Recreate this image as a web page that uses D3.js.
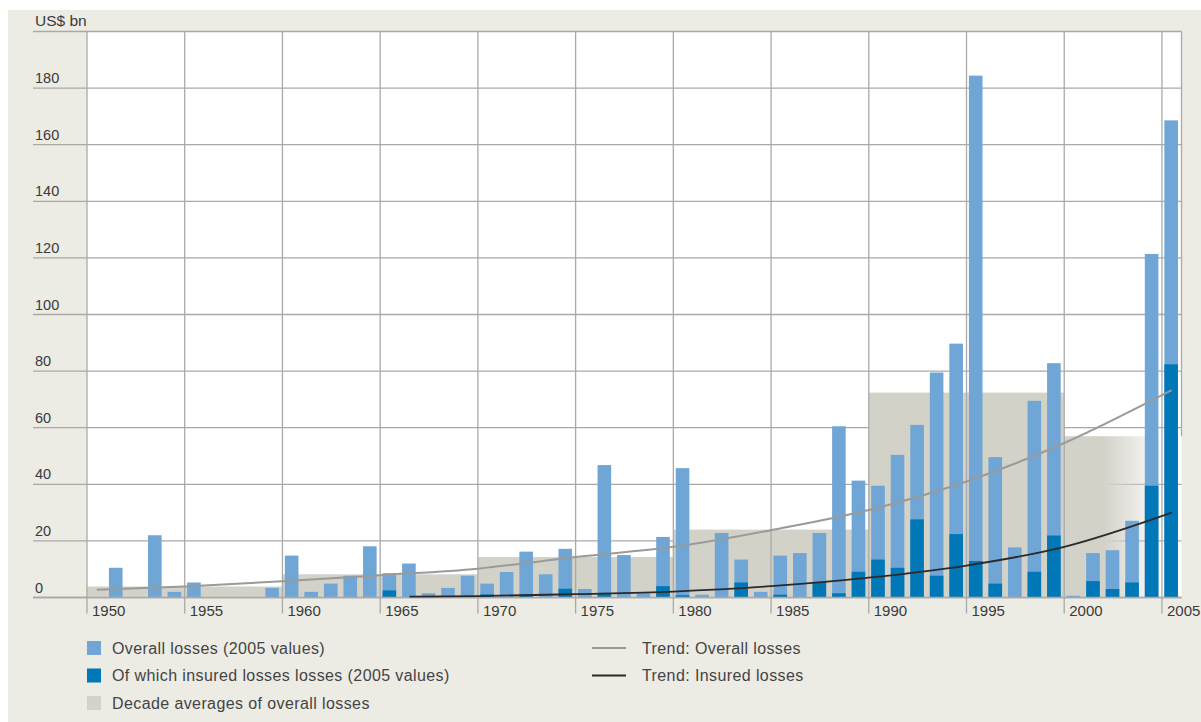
<!DOCTYPE html>
<html>
<head>
<meta charset="utf-8">
<script src="https://cdn.jsdelivr.net/npm/d3@7"></script>
<style>
  body { margin: 0; background: #fff; }
  text { font-family: "Liberation Sans", Arial, sans-serif; fill: #3a3a3a; }
</style>
</head>
<body>
<svg id="chart"></svg>
<script>
// years 1950 - 2005
const years = [1950, 1951, 1952, 1953, 1954, 1955, 1956, 1957, 1958, 1959,
  1960, 1961, 1962, 1963, 1964, 1965, 1966, 1967, 1968, 1969,
  1970, 1971, 1972, 1973, 1974, 1975, 1976, 1977, 1978, 1979,
  1980, 1981, 1982, 1983, 1984, 1985, 1986, 1987, 1988, 1989,
  1990, 1991, 1992, 1993, 1994, 1995, 1996, 1997, 1998, 1999,
  2000, 2001, 2002, 2003, 2004, 2005];

const overallLosses = [0, 10.5, 0, 22, 2, 5.3, 0, 0, 0, 3.4,
  14.8, 2, 4.9, 7.7, 18.1, 8.6, 12, 1.5, 3.4, 7.7,
  4.9, 9, 16.2, 8.2, 17.2, 3, 46.8, 15, 1.5, 21.4,
  45.7, 1, 22.8, 13.4, 2, 14.8, 15.7, 22.8, 60.5, 41.3,
  39.5, 50.4, 61, 79.5, 89.7, 184.4, 49.6, 17.7, 69.5, 82.8,
  0.6, 15.7, 16.7, 27.1, 121.4, 168.6];

const insuredLosses = [0, 0, 0, 0, 0, 0, 0, 0, 0, 0,
  0, 0, 0, 0, 0, 2.5, 0, 0, 0.3, 0.5,
  1.1, 0, 1, 0, 3.1, 0, 1.3, 0, 0, 4,
  0.8, 0, 0, 5.3, 0, 1, 0, 5.5, 1.5, 9.1,
  13.4, 10.5, 27.6, 7.7, 22.4, 12.9, 4.9, 0, 9.1, 21.9,
  0, 5.8, 3, 5.3, 39.5, 82.4];

const decades = [1950, 1960, 1970, 1980, 1990, 2000];
const decadeAverages = [3.9, 8.2, 14.3, 24, 72.4, 57];

// trend curves at 5-year marks
const trendOverall = [[1950.5, 2.7], [1955, 3.9], [1960, 5.7], [1965, 7.9], [1970, 10.2],
  [1975, 14.3], [1980, 17.9], [1985, 23.8], [1990, 30.9], [1995, 41], [2000, 54.6], [2005.5, 73.3]];
const trendInsured = [[1966.5, 0.3], [1970, 0.5], [1975, 1.2], [1980, 2.1], [1985, 4],
  [1990, 7], [1995, 11.3], [2000, 17.9], [2005.5, 30]];

const yTicks = [0, 20, 40, 60, 80, 100, 120, 140, 160, 180];
const xTicks = [1950, 1955, 1960, 1965, 1970, 1975, 1980, 1985, 1990, 1995, 2000, 2005];

const config = {
  width: 1201,
  height: 722,
  plot: { left: 87, right: 1181.5, top: 31.5, bottom: 597.5 },
  gridLeft: 33,
  colors: {
    panel: "#ecebe4",
    overall: "#6fa6d5",
    insured: "#0077b6",
    decade: "#d3d2c8",
    grid: "#a9a9a9",
    trendOverall: "#9a9a9a",
    trendInsured: "#2a2a2a"
  }
};

const svg = d3.select("#chart")
  .attr("width", config.width)
  .attr("height", config.height);

const p = config.plot;
const c = config.colors;

const x = d3.scaleLinear().domain([1950, 2006]).range([p.left, p.right]);
const y = d3.scaleLinear().domain([0, 200]).range([p.bottom, p.top]);

// background panel + white plot area
svg.append("rect").attr("x", 8).attr("y", 10)
  .attr("width", config.width - 8).attr("height", config.height - 10)
  .attr("fill", c.panel);
svg.append("rect").attr("x", p.left).attr("y", p.top)
  .attr("width", p.right - p.left).attr("height", p.bottom - p.top)
  .attr("fill", "#fff");

// horizontal grid (under the decade boxes)
svg.append("g").selectAll("line")
  .data(yTicks.concat([200]))
  .join("line")
  .attr("x1", config.gridLeft).attr("x2", p.right)
  .attr("y1", d => y(d)).attr("y2", d => y(d))
  .attr("stroke", c.grid).attr("stroke-width", 1.3);

svg.append("g").selectAll("text")
  .data(yTicks)
  .join("text")
  .attr("x", 35).attr("y", d => y(d) - 5)
  .style("font-size", "14.5px")
  .text(d => d);

svg.append("text").attr("x", 35).attr("y", 26)
  .style("font-size", "15.5px")
  .text("US$ bn");

// decade averages, the running decade fades out
const defs = svg.append("defs");
const grad = defs.append("linearGradient").attr("id", "fade");
grad.append("stop").attr("offset", "0%").attr("stop-color", c.decade).attr("stop-opacity", 1);
grad.append("stop").attr("offset", "40%").attr("stop-color", c.decade).attr("stop-opacity", 1);
grad.append("stop").attr("offset", "100%").attr("stop-color", c.decade).attr("stop-opacity", 0.05);

svg.append("g").selectAll("rect")
  .data(decades)
  .join("rect")
  .attr("x", d => x(d))
  .attr("width", (d, i) => i === decades.length - 1 ? x(2005) - x(d) : x(d + 10) - x(d))
  .attr("y", (d, i) => y(decadeAverages[i]))
  .attr("height", (d, i) => y(0) - y(decadeAverages[i]))
  .attr("fill", (d, i) => i === decades.length - 1 ? "url(#fade)" : c.decade);

// vertical grid + ticks
svg.append("g").selectAll("line")
  .data(xTicks)
  .join("line")
  .attr("x1", d => x(d)).attr("x2", d => x(d))
  .attr("y1", p.top).attr("y2", p.bottom + 16)
  .attr("stroke", c.grid).attr("stroke-width", 1.3);

svg.append("line")
  .attr("x1", p.right).attr("x2", p.right)
  .attr("y1", p.top).attr("y2", y(decadeAverages[5]))
  .attr("stroke", c.grid).attr("stroke-width", 1.3);

svg.append("g").selectAll("text")
  .data(xTicks)
  .join("text")
  .attr("x", d => x(d) + 5).attr("y", 616)
  .style("font-size", "15px")
  .text(d => d);

// bars
const barOffset = 2.4, barWidth = 13.6;

svg.append("g").selectAll("rect")
  .data(years.filter((d, i) => overallLosses[i] > 0))
  .join("rect")
  .attr("x", d => x(d) + barOffset)
  .attr("width", barWidth)
  .attr("y", d => y(overallLosses[years.indexOf(d)]))
  .attr("height", d => y(0) - y(overallLosses[years.indexOf(d)]))
  .attr("fill", c.overall);

svg.append("g").selectAll("rect")
  .data(years.filter((d, i) => insuredLosses[i] > 0))
  .join("rect")
  .attr("x", d => x(d) + barOffset)
  .attr("width", barWidth)
  .attr("y", d => y(insuredLosses[years.indexOf(d)]))
  .attr("height", d => y(0) - y(insuredLosses[years.indexOf(d)]))
  .attr("fill", c.insured);

// baseline
svg.append("line")
  .attr("x1", config.gridLeft).attr("x2", p.right)
  .attr("y1", y(0)).attr("y2", y(0))
  .attr("stroke", c.grid).attr("stroke-width", 1.3);

// trend lines
const line = d3.line()
  .x(d => x(d[0]))
  .y(d => y(d[1]))
  .curve(d3.curveMonotoneX);

svg.append("path").datum(trendOverall)
  .attr("d", line)
  .attr("fill", "none")
  .attr("stroke", c.trendOverall)
  .attr("stroke-width", 2);

svg.append("path").datum(trendInsured)
  .attr("d", line)
  .attr("fill", "none")
  .attr("stroke", c.trendInsured)
  .attr("stroke-width", 1.8);

// legend
const boxLegend = [
  { label: "Overall losses (2005 values)", color: c.overall },
  { label: "Of which insured losses losses (2005 values)", color: c.insured },
  { label: "Decade averages of overall losses", color: c.decade }
];
const lineLegend = [
  { label: "Trend: Overall losses", color: c.trendOverall },
  { label: "Trend: Insured losses", color: c.trendInsured }
];

const legendRows = [648, 675.5, 703];

const lg = svg.append("g");
lg.selectAll("rect")
  .data(boxLegend)
  .join("rect")
  .attr("x", 87).attr("y", (d, i) => legendRows[i] - 7)
  .attr("width", 14).attr("height", 14)
  .attr("fill", d => d.color);
lg.selectAll("text.box")
  .data(boxLegend)
  .join("text")
  .attr("class", "box")
  .attr("x", 112).attr("y", (d, i) => legendRows[i] + 5.5)
  .style("font-size", "16px")
  .style("letter-spacing", "0.4px")
  .style("fill", "#444")
  .text(d => d.label);

lg.selectAll("line")
  .data(lineLegend)
  .join("line")
  .attr("x1", 592).attr("x2", 626)
  .attr("y1", (d, i) => legendRows[i]).attr("y2", (d, i) => legendRows[i])
  .attr("stroke", d => d.color)
  .attr("stroke-width", 2);
lg.selectAll("text.ln")
  .data(lineLegend)
  .join("text")
  .attr("class", "ln")
  .attr("x", 642).attr("y", (d, i) => legendRows[i] + 5.5)
  .style("font-size", "16px")
  .style("letter-spacing", "0.4px")
  .style("fill", "#444")
  .text(d => d.label);
</script>
</body>
</html>
